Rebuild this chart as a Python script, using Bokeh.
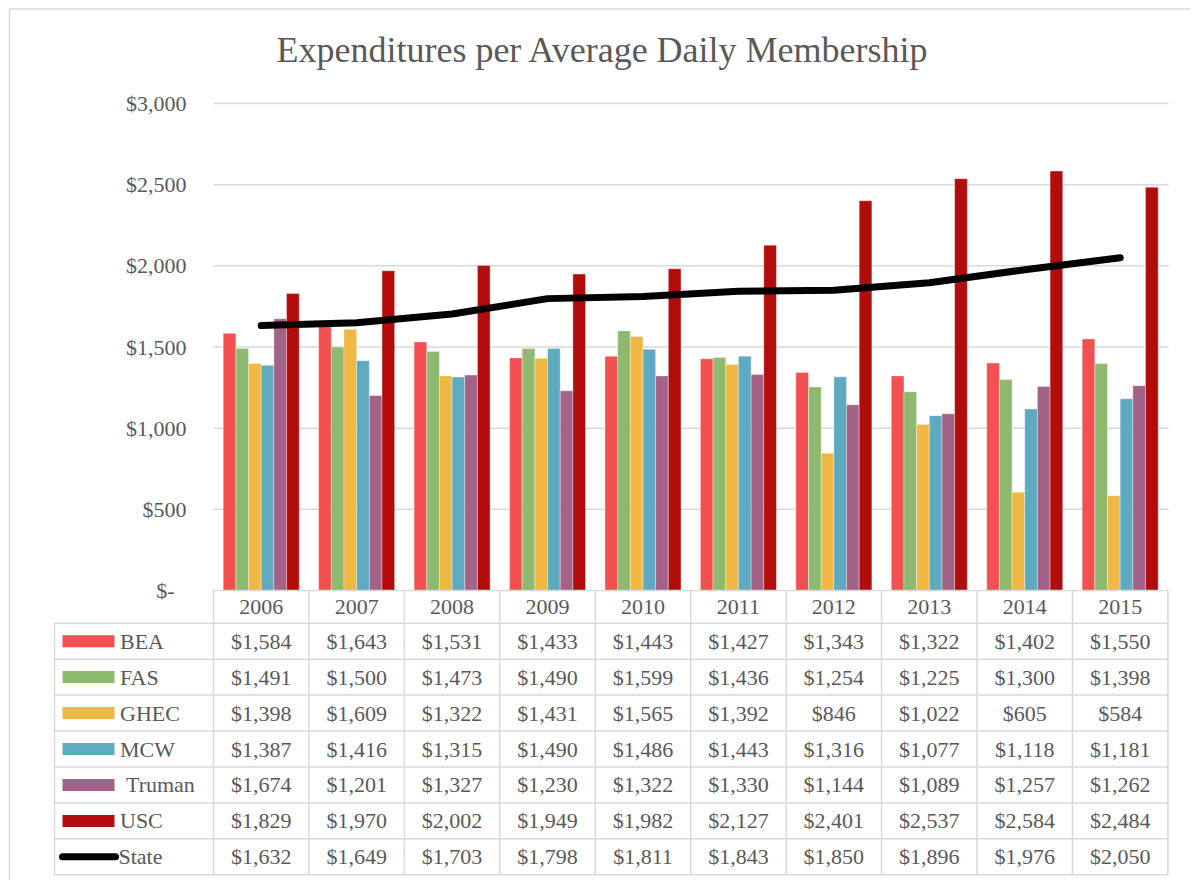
from bokeh.plotting import figure
from bokeh.models import Range1d, ColumnDataSource
from bokeh.core.properties import value
from bokeh.embed import file_html
from bokeh.resources import INLINE

# ---------------- data ----------------
title_text = "Expenditures per Average Daily Membership"
years = ["2006", "2007", "2008", "2009", "2010", "2011", "2012", "2013", "2014", "2015"]
BEA = [1584, 1643, 1531, 1433, 1443, 1427, 1343, 1322, 1402, 1550]
FAS = [1491, 1500, 1473, 1490, 1599, 1436, 1254, 1225, 1300, 1398]
GHEC = [1398, 1609, 1322, 1431, 1565, 1392, 846, 1022, 605, 584]
MCW = [1387, 1416, 1315, 1490, 1486, 1443, 1316, 1077, 1118, 1181]
Truman = [1674, 1201, 1327, 1230, 1322, 1330, 1144, 1089, 1257, 1262]
USC = [1829, 1970, 2002, 1949, 1982, 2127, 2401, 2537, 2584, 2484]
State = [1632, 1649, 1703, 1798, 1811, 1843, 1850, 1896, 1976, 2050]
bar_names = ["BEA", "FAS", "GHEC", "MCW", "Truman", "USC"]
bar_series = [BEA, FAS, GHEC, MCW, Truman, USC]
line_name = "State"
y_ticks = [0, 500, 1000, 1500, 2000, 2500, 3000]

# ---------------- styles / layout ----------------
colors = ["#F35051", "#8DBA6E", "#EFB844", "#5EABC0", "#A36389", "#B20D0D"]
text_color = "#595959"
grid_color = "#D9D9D9"
FONT = value("Liberation Serif")

W, H = 1190, 880
PL, PT = 0, 0                      # page offset of the canvas
plot_left, plot_right = 213.0, 1167.4
zero_px, top_px = 590.0, 103.0
col_w = (plot_right - plot_left) / len(years)
ypp = y_ticks[-1] / (zero_px - top_px)


def X(px):
    return (px - plot_left) / col_w


def Y(py):
    return (zero_px - py) * ypp


p = figure(width=W, height=H, output_backend="svg", toolbar_location=None,
           x_range=Range1d(X(PL), X(PL + W)), y_range=Range1d(Y(PT + H), Y(PT)),
           x_axis_location=None, y_axis_location=None, min_border=0,
           outline_line_color=None, background_fill_color="white",
           border_fill_color="white")
p.xgrid.visible = False
p.ygrid.visible = False

# chart border (top and left visible in the reference)
p.segment(x0=[X(9), X(9)], y0=[Y(8.5), Y(8.5)],
          x1=[X(PL + W), X(9)], y1=[Y(8.5), Y(PT + H)],
          line_color=grid_color, line_width=1.5)

# title
p.text(x=[X(602.5)], y=[Y(49)], text=[title_text], text_font=FONT,
       text_font_size="36px", text_color=text_color, text_align="center",
       text_baseline="middle")

# horizontal gridlines + tick labels
gl = [t for t in y_ticks if t > 0]
p.segment(x0=[0] * len(gl), x1=[X(1168)] * len(gl), y0=gl, y1=gl,
          line_color=grid_color, line_width=1.5)
tick_labels = [("$%s" % format(t, ",")) if t else "$-" for t in y_ticks]
tick_off = [0 if t else -12 for t in y_ticks]
p.text(x=[X(186)] * len(y_ticks), y=y_ticks, text=tick_labels, x_offset=tick_off,
       text_font=FONT, text_font_size="22px", text_color=text_color,
       text_align="right", text_baseline="middle")

# bars
nb = len(bar_series)
bw = 12.67 / col_w
centers = [i + 0.5 for i in range(len(years))]
for k, vals in enumerate(bar_series):
    xs = [c + (k - (nb - 1) / 2) * bw for c in centers]
    p.vbar(x=xs, top=vals, bottom=0, width=bw, fill_color=colors[k],
           line_color="white", line_alpha=0.45, line_width=0.8)

# state line
p.line(x=centers, y=State, line_color="black", line_width=7,
       line_cap="round", line_join="round")

# ---------------- data table ----------------
row_names = bar_names + [line_name]
row_vals = bar_series + [State]
nrows = len(row_names)
head_top, head_bot = zero_px, 622.7
tab_bot = 874.3
rh = (tab_bot - head_bot) / nrows
tab_left = 54.0

# lines
hx0, hx1, hy = [0], [X(plot_right)], [Y(head_top)]
for r in range(nrows + 1):
    hx0.append(X(tab_left))
    hx1.append(X(plot_right))
    hy.append(Y(head_bot + r * rh))
p.segment(x0=hx0, x1=hx1, y0=hy, y1=hy, line_color=grid_color, line_width=1.5)
vx = [float(i) for i in range(len(years) + 1)] + [X(tab_left)]
vy0 = [Y(head_top)] * (len(years) + 1) + [Y(head_bot)]
vy1 = [Y(tab_bot)] * (len(years) + 2)
p.segment(x0=vx, x1=vx, y0=vy0, y1=vy1, line_color=grid_color, line_width=1.5)

# header
p.text(x=centers, y=[Y((head_top + head_bot) / 2)] * len(years), text=years,
       text_font=FONT, text_font_size="22px", text_color=text_color,
       text_align="center", text_baseline="middle")

# cells
cx, cy, ct = [], [], []
for r, vals in enumerate(row_vals):
    yc = Y(head_bot + (r + 0.5) * rh)
    for i, v in enumerate(vals):
        cx.append(centers[i])
        cy.append(yc)
        ct.append("$" + format(v, ","))
p.text(x="x", y="y", text="t", source=ColumnDataSource(dict(x=cx, y=cy, t=ct)),
       text_font=FONT, text_font_size="22px", text_color=text_color,
       text_align="center", text_baseline="middle")

# legend keys + row labels
row_y = [Y(head_bot + (r + 0.5) * rh) for r in range(nrows)]
key_h = 12 * ypp
for r in range(nb):
    p.quad(left=[X(62)], right=[X(114)], top=[row_y[r] + key_h / 2],
           bottom=[row_y[r] - key_h / 2], fill_color=colors[r], line_color=None)
p.line(x=[X(62), X(115)], y=[row_y[-1], row_y[-1]], line_color="black",
       line_width=7, line_cap="round")
lab_off = [6 if n == "Truman" else 0 for n in row_names]
lab_x = [X(119.5) if n != line_name else X(118) for n in row_names]
p.text(x=lab_x, y=row_y, text=row_names, x_offset=lab_off, text_font=FONT,
       text_font_size="22px", text_color=text_color, text_align="left",
       text_baseline="middle")

open("out.html", "w").write(file_html(p, INLINE))
